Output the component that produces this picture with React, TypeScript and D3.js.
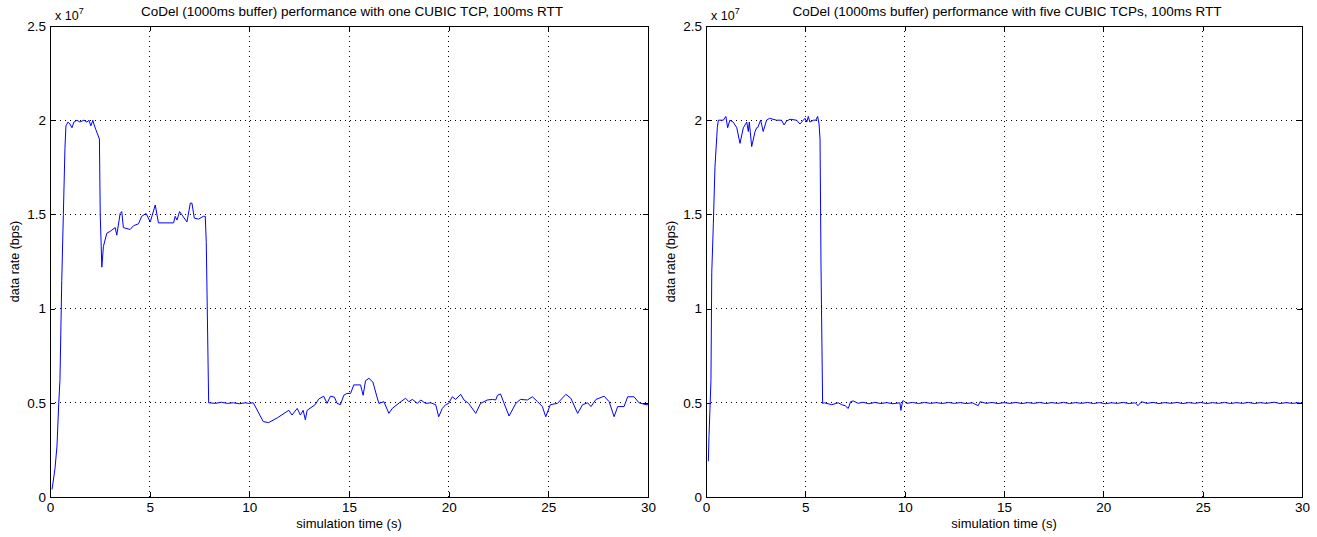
import React, { useRef, useEffect } from "react";
import * as d3 from "d3";

// time (s), rate (x 1e7 bps)
const leftSeries: [number, number][] = [
  [0.1, 0.04], [0.17, 0.09], [0.25, 0.15], [0.35, 0.27], [0.44, 0.5], [0.5, 0.62],
  [0.59, 1.15], [0.67, 1.5], [0.75, 1.85], [0.8, 1.97], [0.9, 1.99], [1.0, 1.98],
  [1.1, 1.96], [1.2, 1.99], [1.35, 2.0], [1.5, 1.99], [1.7, 2.0], [1.85, 1.99],
  [1.95, 2.0], [2.05, 1.97], [2.15, 2.0], [2.2, 1.98], [2.3, 1.95], [2.48, 1.9],
  [2.52, 1.5], [2.6, 1.22], [2.68, 1.33], [2.85, 1.4], [3.02, 1.41], [3.27, 1.43],
  [3.35, 1.39], [3.52, 1.505], [3.6, 1.515], [3.68, 1.43], [4.02, 1.42], [4.19, 1.44],
  [4.44, 1.45], [4.6, 1.49], [4.82, 1.505], [5.03, 1.46], [5.28, 1.55], [5.44, 1.455],
  [6.2, 1.455], [6.28, 1.49], [6.37, 1.47], [6.5, 1.515], [6.87, 1.46], [7.04, 1.56],
  [7.12, 1.56], [7.24, 1.48], [7.45, 1.475], [7.7, 1.49], [7.79, 1.49], [7.84, 1.35],
  [7.96, 0.5], [8.3, 0.497], [8.6, 0.503], [8.9, 0.497], [9.2, 0.5], [9.5, 0.495],
  [9.8, 0.5], [9.97, 0.497], [10.2, 0.5], [10.55, 0.43], [10.7, 0.4], [10.97, 0.395],
  [11.4, 0.42], [11.98, 0.46], [12.14, 0.435], [12.4, 0.47], [12.56, 0.435], [12.7, 0.46],
  [12.81, 0.41], [12.9, 0.46], [13.3, 0.49], [13.48, 0.52], [13.73, 0.535], [13.9, 0.497],
  [14.07, 0.535], [14.27, 0.53], [14.4, 0.497], [14.57, 0.49], [14.74, 0.54], [14.9, 0.55],
  [15.08, 0.55], [15.24, 0.595], [15.58, 0.595], [15.71, 0.54], [15.83, 0.617], [16.0, 0.63],
  [16.2, 0.61], [16.4, 0.532], [16.5, 0.497], [16.75, 0.506], [17.0, 0.444], [17.17, 0.47],
  [17.6, 0.506], [17.84, 0.524], [18.0, 0.506], [18.18, 0.518], [18.43, 0.497], [18.6, 0.515],
  [18.84, 0.497], [19.1, 0.5], [19.35, 0.49], [19.5, 0.426], [19.68, 0.47], [19.85, 0.49],
  [20.0, 0.497], [20.18, 0.532], [20.35, 0.518], [20.6, 0.545], [20.77, 0.515], [21.0, 0.497],
  [21.36, 0.444], [21.6, 0.497], [21.94, 0.515], [22.2, 0.518], [22.36, 0.515], [22.45, 0.54],
  [22.6, 0.547], [22.78, 0.497], [23.03, 0.43], [23.37, 0.497], [23.6, 0.518], [23.95, 0.515],
  [24.2, 0.532], [24.46, 0.506], [24.7, 0.48], [24.87, 0.426], [25.1, 0.49], [25.46, 0.497],
  [25.88, 0.545], [26.13, 0.524], [26.47, 0.444], [26.72, 0.49], [26.97, 0.5], [27.14, 0.48],
  [27.39, 0.518], [27.8, 0.535], [28.05, 0.506], [28.3, 0.426], [28.48, 0.48], [28.8, 0.48],
  [28.98, 0.532], [29.3, 0.532], [29.55, 0.5], [29.9, 0.49], [30.0, 0.49],
];

const rightSeries: [number, number][] = [
  [0.12, 0.19], [0.15, 0.32], [0.2, 0.47], [0.25, 0.62], [0.29, 1.19], [0.37, 1.45],
  [0.45, 1.75], [0.57, 1.96], [0.62, 2.0], [0.87, 2.0], [1.0, 2.02], [1.09, 1.96],
  [1.2, 2.0], [1.37, 1.99], [1.55, 1.96], [1.71, 1.877], [1.88, 1.96], [2.05, 1.99],
  [2.13, 1.94], [2.18, 1.99], [2.3, 1.86], [2.47, 1.94], [2.55, 1.96], [2.6, 1.96],
  [2.75, 2.0], [2.88, 1.94], [3.05, 2.0], [3.2, 2.01], [3.55, 2.0], [3.8, 2.0],
  [3.93, 1.975], [4.05, 1.995], [4.23, 2.005], [4.56, 2.0], [4.73, 1.98], [4.9, 2.0],
  [4.98, 2.01], [5.07, 1.99], [5.15, 2.02], [5.23, 1.99], [5.4, 2.0], [5.53, 2.0],
  [5.62, 2.02], [5.69, 1.98], [5.74, 1.9], [5.79, 1.22], [5.87, 0.497], [5.95, 0.5],
  [6.33, 0.49], [6.66, 0.5], [6.83, 0.49], [7.0, 0.485], [7.16, 0.47], [7.28, 0.506],
  [7.41, 0.51], [7.66, 0.497], [7.9, 0.503], [8.2, 0.495], [8.5, 0.502], [8.8, 0.496],
  [9.1, 0.501], [9.4, 0.495], [9.76, 0.5], [9.81, 0.46], [9.9, 0.51], [9.96, 0.51],
  [10.1, 0.497], [10.4, 0.502], [10.7, 0.496], [11.0, 0.502], [11.3, 0.497], [11.6, 0.501],
  [11.9, 0.496], [12.2, 0.502], [12.5, 0.497], [12.8, 0.501], [13.1, 0.496], [13.4, 0.5],
  [13.7, 0.485], [13.8, 0.506], [14.1, 0.497], [14.4, 0.502], [14.7, 0.496], [15.0, 0.501],
  [15.3, 0.497], [15.6, 0.502], [15.9, 0.496], [16.2, 0.501], [16.5, 0.497], [16.8, 0.502],
  [17.1, 0.496], [17.4, 0.501], [17.7, 0.497], [18.0, 0.502], [18.3, 0.496], [18.6, 0.501],
  [18.9, 0.497], [19.2, 0.502], [19.5, 0.496], [19.8, 0.501], [20.1, 0.495], [20.4, 0.5],
  [20.7, 0.497], [21.0, 0.502], [21.3, 0.496], [21.6, 0.5], [21.75, 0.485], [21.92, 0.506],
  [22.2, 0.497], [22.5, 0.502], [22.8, 0.496], [23.1, 0.501], [23.4, 0.497], [23.7, 0.502],
  [24.0, 0.496], [24.3, 0.501], [24.6, 0.497], [24.9, 0.502], [25.2, 0.496], [25.5, 0.501],
  [25.8, 0.497], [26.1, 0.502], [26.4, 0.496], [26.7, 0.501], [27.0, 0.497], [27.3, 0.502],
  [27.6, 0.496], [27.9, 0.501], [28.2, 0.497], [28.6, 0.503], [28.9, 0.496], [29.2, 0.501],
  [29.5, 0.497], [29.8, 0.5], [30.0, 0.497],
];

const xTicks = [0, 5, 10, 15, 20, 25, 30];
const yTicks = [0, 0.5, 1, 1.5, 2, 2.5];
const titles = [
  "CoDel (1000ms buffer) performance with one CUBIC TCP, 100ms RTT",
  "CoDel (1000ms buffer) performance with five CUBIC TCPs, 100ms RTT",
];

const FONT = "'Liberation Sans', Arial, sans-serif";

export default function App() {
  const ref = useRef<SVGSVGElement>(null);

  useEffect(() => {
    const svg = d3.select(ref.current);
    svg.selectAll("*").remove();

    const top = 26;
    const bottom = 497;
    const panels = [
      { left: 50, right: 648, data: leftSeries, title: titles[0] },
      { left: 706, right: 1302, data: rightSeries, title: titles[1] },
    ];

    panels.forEach((p) => {
      const x = d3.scaleLinear().domain([0, 30]).range([p.left, p.right]);
      const y = d3.scaleLinear().domain([0, 2.5]).range([bottom, top]);
      const g = svg.append("g");

      // grid
      g.selectAll(".vgrid")
        .data(xTicks.slice(1, -1))
        .enter()
        .append("line")
        .attr("x1", (d) => x(d))
        .attr("x2", (d) => x(d))
        .attr("y1", top)
        .attr("y2", bottom)
        .attr("stroke", "#000")
        .attr("stroke-dasharray", "1,4")
        .attr("shape-rendering", "crispEdges");
      g.selectAll(".hgrid")
        .data(yTicks.slice(1, -1))
        .enter()
        .append("line")
        .attr("x1", p.left)
        .attr("x2", p.right)
        .attr("y1", (d) => y(d))
        .attr("y2", (d) => y(d))
        .attr("stroke", "#000")
        .attr("stroke-dasharray", "1,4")
        .attr("shape-rendering", "crispEdges");

      // data line
      const line = d3
        .line<[number, number]>()
        .x((d) => x(d[0]))
        .y((d) => y(d[1]));
      g.append("path")
        .datum(p.data)
        .attr("d", line)
        .attr("fill", "none")
        .attr("stroke", "#0000ff")
        .attr("stroke-width", 1);

      // axes (box with inward ticks)
      const styleAxis = (sel: any) => {
        sel.selectAll("path").attr("stroke", "#000");
        sel.selectAll("line").attr("stroke", "#000");
        sel.selectAll("text")
          .attr("fill", "#000")
          .style("font-family", FONT)
          .style("font-size", "13.5px");
        sel.attr("shape-rendering", "crispEdges");
      };

      g.append("g")
        .attr("transform", `translate(0,${bottom})`)
        .call(d3.axisBottom(x).tickValues(xTicks).tickSizeInner(-5).tickSizeOuter(0).tickPadding(5))
        .call(styleAxis);
      g.append("g")
        .attr("transform", `translate(0,${top})`)
        .call(d3.axisTop(x).tickValues(xTicks).tickSizeInner(-5).tickSizeOuter(0).tickFormat(() => ""))
        .call(styleAxis);
      g.append("g")
        .attr("transform", `translate(${p.left},0)`)
        .call(d3.axisLeft(y).tickValues(yTicks).tickSizeInner(-5).tickSizeOuter(0).tickPadding(4).tickFormat(d3.format("")))
        .call(styleAxis);
      g.append("g")
        .attr("transform", `translate(${p.right},0)`)
        .call(d3.axisRight(y).tickValues(yTicks).tickSizeInner(-5).tickSizeOuter(0).tickFormat(() => ""))
        .call(styleAxis);

      // exponent
      const ex = g.append("text")
        .attr("x", p.left + 5)
        .attr("y", 20)
        .style("font-family", FONT)
        .style("font-size", "12.5px")
        .attr("fill", "#000");
      ex.append("tspan").text("x 10");
      ex.append("tspan").attr("dy", -6).style("font-size", "9px").text("7");

      // title
      g.append("text")
        .attr("x", (p.left + p.right) / 2 + 3)
        .attr("y", 16)
        .attr("text-anchor", "middle")
        .style("font-family", FONT)
        .style("font-size", "13.5px")
        .attr("fill", "#000")
        .text(p.title);

      // axis labels
      g.append("text")
        .attr("x", (p.left + p.right) / 2)
        .attr("y", 528)
        .attr("text-anchor", "middle")
        .style("font-family", FONT)
        .style("font-size", "13px")
        .attr("fill", "#000")
        .text("simulation time (s)");
      g.append("text")
        .attr("transform", `translate(${p.left - 31},${(top + bottom) / 2}) rotate(-90)`)
        .attr("text-anchor", "middle")
        .style("font-family", FONT)
        .style("font-size", "12.5px")
        .attr("fill", "#000")
        .text("data rate (bps)");
    });
  }, []);

  return (
    <svg
      ref={ref}
      width={1317}
      height={537}
      style={{ position: "absolute", left: 0, top: 0, background: "#fff" }}
    ></svg>
  );
}
